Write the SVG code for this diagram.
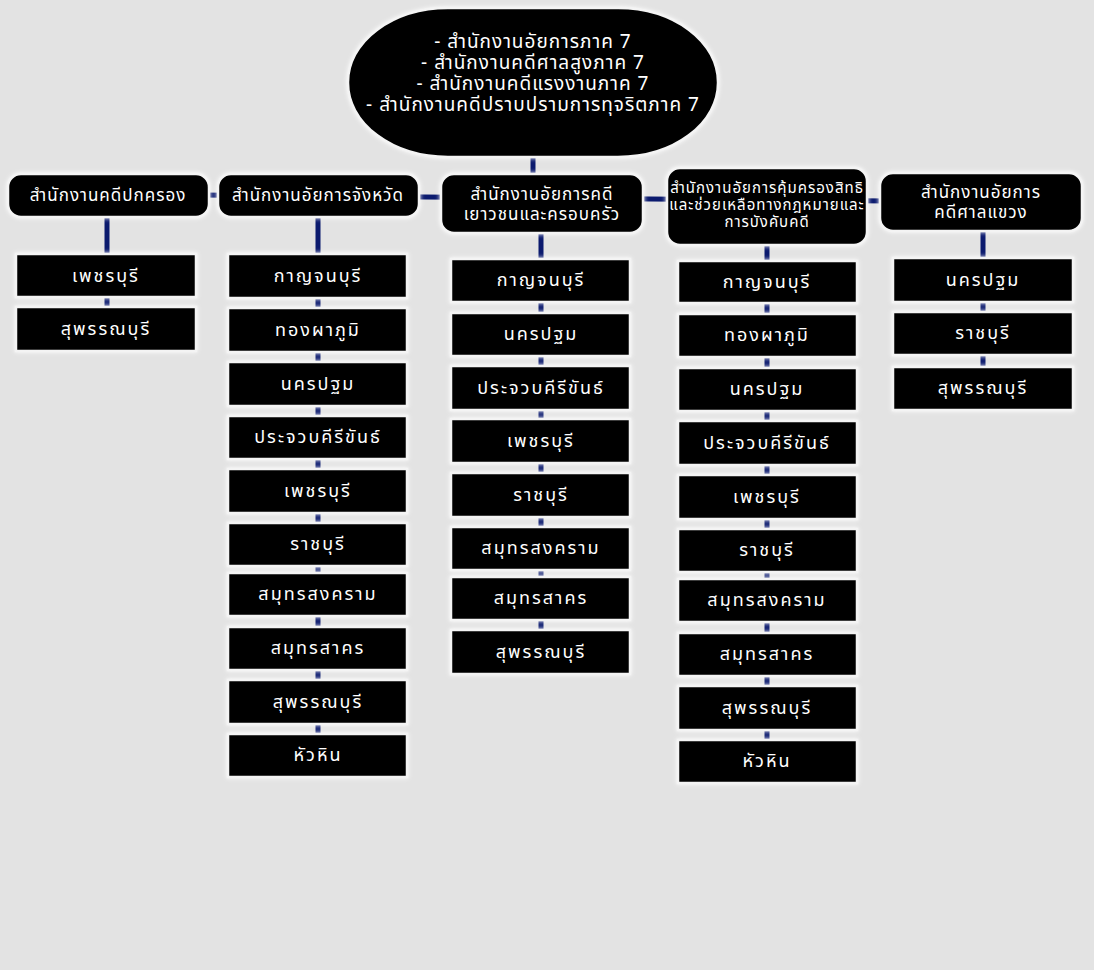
<svg xmlns="http://www.w3.org/2000/svg" width="1094" height="970" viewBox="0 0 1094 970">
<defs>
<filter id="glow" x="-10%" y="-20%" width="120%" height="140%">
<feDropShadow dx="0" dy="0" stdDeviation="2" flood-color="#ffffff" flood-opacity="1"/>
</filter>
<style>
.bx{fill:#000;stroke:#f4f4f4;stroke-width:2.5;filter:url(#glow)}
.t{fill:#fff;font-family:Tahoma,"Noto Sans Thai","Loma","Garuda","Noto Sans","DejaVu Sans",sans-serif;text-anchor:middle}
.c{font-size:18px;letter-spacing:2px}
.h{font-size:17px;letter-spacing:1px}
.s{font-size:15px;letter-spacing:1px}
.top{font-size:19px;letter-spacing:1px}
.ln{stroke:#0b1a6e;stroke-width:5;fill:none}
</style>
</defs>
<rect width="1094" height="970" fill="#e3e3e3"/>
<g id="connectors">
<line class="ln" x1="533" y1="150" x2="533" y2="180"/>
<line class="ln" x1="200" y1="195" x2="890" y2="201"/>
<line class="ln" x1="107" y1="210" x2="107" y2="310"/>
<line class="ln" x1="318" y1="210" x2="318" y2="740"/>
<line class="ln" x1="541" y1="225" x2="541" y2="635"/>
<line class="ln" x1="767" y1="240" x2="767" y2="745"/>
<line class="ln" x1="983" y1="225" x2="983" y2="370"/>
</g>
<g id="root">
<rect class="bx" x="348" y="8" width="370" height="149" rx="100" ry="74"/>
<text class="t top" x="533" y="48">- สำนักงานอัยการภาค 7</text>
<text class="t top" x="533" y="69">- สำนักงานคดีศาลสูงภาค 7</text>
<text class="t top" x="533" y="90">- สำนักงานคดีแรงงานภาค 7</text>
<text class="t top" x="533" y="111">- สำนักงานคดีปราบปรามการทุจริตภาค 7</text>
</g>
<g id="h1"><rect class="bx" x="8" y="174" width="201" height="43" rx="13"/><text class="t h" x="108" y="201">สำนักงานคดีปกครอง</text></g>
<g id="h2"><rect class="bx" x="218" y="174" width="201" height="43" rx="13"/><text class="t h" x="318" y="201">สำนักงานอัยการจังหวัด</text></g>
<g id="h3"><rect class="bx" x="441" y="174" width="202" height="59" rx="13"/><text class="t h" x="542" y="200">สำนักงานอัยการคดี</text><text class="t h" x="542" y="220">เยาวชนและครอบครัว</text></g>
<g id="h4"><rect class="bx" x="667" y="168" width="200" height="77" rx="13"/><text class="t s" x="767" y="193">สำนักงานอัยการคุ้มครองสิทธิ</text><text class="t s" x="767" y="210">และช่วยเหลือทางกฎหมายและ</text><text class="t s" x="767" y="227">การบังคับคดี</text></g>
<g id="h5"><rect class="bx" x="880" y="173" width="202" height="58" rx="13"/><text class="t h" x="981" y="198">สำนักงานอัยการ</text><text class="t h" x="981" y="218">คดีศาลแขวง</text></g>

<g id="c1-1"><rect class="bx" x="16" y="254" width="180" height="43"/><text class="t c" x="106" y="282">เพชรบุรี</text></g>
<g id="c1-2"><rect class="bx" x="16" y="307" width="180" height="44"/><text class="t c" x="106" y="335">สุพรรณบุรี</text></g>

<g id="c2-1"><rect class="bx" x="228" y="254" width="179" height="44"/><text class="t c" x="318" y="282">กาญจนบุรี</text></g>
<g id="c2-2"><rect class="bx" x="228" y="308" width="179" height="44"/><text class="t c" x="318" y="336">ทองผาภูมิ</text></g>
<g id="c2-3"><rect class="bx" x="228" y="362" width="179" height="44"/><text class="t c" x="318" y="390">นครปฐม</text></g>
<g id="c2-4"><rect class="bx" x="228" y="416" width="179" height="43"/><text class="t c" x="318" y="443">ประจวบคีรีขันธ์</text></g>
<g id="c2-5"><rect class="bx" x="228" y="469" width="179" height="44"/><text class="t c" x="318" y="497">เพชรบุรี</text></g>
<g id="c2-6"><rect class="bx" x="228" y="523" width="179" height="43"/><text class="t c" x="318" y="550">ราชบุรี</text></g>
<g id="c2-7"><rect class="bx" x="228" y="573" width="179" height="43"/><text class="t c" x="318" y="600">สมุทรสงคราม</text></g>
<g id="c2-8"><rect class="bx" x="228" y="627" width="179" height="43"/><text class="t c" x="318" y="654">สมุทรสาคร</text></g>
<g id="c2-9"><rect class="bx" x="228" y="680" width="179" height="44"/><text class="t c" x="318" y="708">สุพรรณบุรี</text></g>
<g id="c2-10"><rect class="bx" x="228" y="734" width="179" height="43"/><text class="t c" x="318" y="761">หัวหิน</text></g>

<g id="c3-1"><rect class="bx" x="451" y="259" width="179" height="43"/><text class="t c" x="541" y="286">กาญจนบุรี</text></g>
<g id="c3-2"><rect class="bx" x="451" y="313" width="179" height="43"/><text class="t c" x="541" y="340">นครปฐม</text></g>
<g id="c3-3"><rect class="bx" x="451" y="366" width="179" height="44"/><text class="t c" x="541" y="394">ประจวบคีรีขันธ์</text></g>
<g id="c3-4"><rect class="bx" x="451" y="419" width="179" height="44"/><text class="t c" x="541" y="447">เพชรบุรี</text></g>
<g id="c3-5"><rect class="bx" x="451" y="473" width="179" height="44"/><text class="t c" x="541" y="501">ราชบุรี</text></g>
<g id="c3-6"><rect class="bx" x="451" y="527" width="179" height="43"/><text class="t c" x="541" y="554">สมุทรสงคราม</text></g>
<g id="c3-7"><rect class="bx" x="451" y="577" width="179" height="43"/><text class="t c" x="541" y="604">สมุทรสาคร</text></g>
<g id="c3-8"><rect class="bx" x="451" y="630" width="179" height="44"/><text class="t c" x="541" y="658">สุพรรณบุรี</text></g>

<g id="c4-1"><rect class="bx" x="678" y="261" width="179" height="42"/><text class="t c" x="767" y="288">กาญจนบุรี</text></g>
<g id="c4-2"><rect class="bx" x="678" y="314" width="179" height="43"/><text class="t c" x="767" y="341">ทองผาภูมิ</text></g>
<g id="c4-3"><rect class="bx" x="678" y="368" width="179" height="43"/><text class="t c" x="767" y="395">นครปฐม</text></g>
<g id="c4-4"><rect class="bx" x="678" y="421" width="179" height="44"/><text class="t c" x="767" y="449">ประจวบคีรีขันธ์</text></g>
<g id="c4-5"><rect class="bx" x="678" y="475" width="179" height="44"/><text class="t c" x="767" y="503">เพชรบุรี</text></g>
<g id="c4-6"><rect class="bx" x="678" y="529" width="179" height="43"/><text class="t c" x="767" y="556">ราชบุรี</text></g>
<g id="c4-7"><rect class="bx" x="678" y="579" width="179" height="43"/><text class="t c" x="767" y="606">สมุทรสงคราม</text></g>
<g id="c4-8"><rect class="bx" x="678" y="633" width="179" height="43"/><text class="t c" x="767" y="660">สมุทรสาคร</text></g>
<g id="c4-9"><rect class="bx" x="678" y="686" width="179" height="44"/><text class="t c" x="767" y="714">สุพรรณบุรี</text></g>
<g id="c4-10"><rect class="bx" x="678" y="740" width="179" height="43"/><text class="t c" x="767" y="767">หัวหิน</text></g>

<g id="c5-1"><rect class="bx" x="893" y="258" width="180" height="44"/><text class="t c" x="983" y="286">นครปฐม</text></g>
<g id="c5-2"><rect class="bx" x="893" y="312" width="180" height="43"/><text class="t c" x="983" y="339">ราชบุรี</text></g>
<g id="c5-3"><rect class="bx" x="893" y="367" width="180" height="43"/><text class="t c" x="983" y="394">สุพรรณบุรี</text></g>
</svg>
